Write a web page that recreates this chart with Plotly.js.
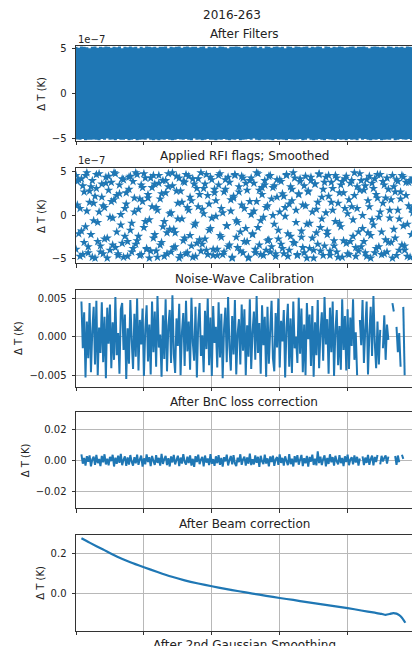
<!DOCTYPE html>
<html><head><meta charset="utf-8">
<script src="https://cdn.plot.ly/plotly-3.0.1.min.js"></script>
<style>html,body{margin:0;padding:0;background:#fff;overflow:hidden;width:412px;height:646px}#chart{width:414px;height:700px}</style>
</head><body><div id="chart"></div>
<script>
const suptitle = "2016-263";
const panelTitles = ["After Filters","Applied RFI flags; Smoothed","Noise-Wave Calibration","After BnC loss correction","After Beam correction","After 2nd Gaussian Smoothing"];
const yLabel = "Δ T (K)";
const offsetLabel = "1e−7";

// frequency channels (MHz)
const freq = [50,50.2,50.4,50.6,50.8,51,51.2,51.4,51.6,51.8,52,52.2,52.4,52.6,52.8,53,53.2,53.4,53.6,53.8,54,54.2,54.4,54.6,54.8,55,55.2,55.4,55.6,55.8,56,56.2,56.4,56.6,56.8,57,57.2,57.4,57.6,57.8,58,58.2,58.4,58.6,58.8,59,59.2,59.4,59.6,59.8,60,60.2,60.4,60.6,60.8,61,61.2,61.4,61.6,61.8,62,62.2,62.4,62.6,62.8,63,63.2,63.4,63.6,63.8,64,64.2,64.4,64.6,64.8,65,65.2,65.4,65.6,65.8,66,66.2,66.4,66.6,66.8,67,67.2,67.4,67.6,67.8,68,68.2,68.4,68.6,68.8,69,69.2,69.4,69.6,69.8,70,70.2,70.4,70.6,70.8,71,71.2,71.4,71.6,71.8,72,72.2,72.4,72.6,72.8,73,73.2,73.4,73.6,73.8,74,74.2,74.4,74.6,74.8,75,75.2,75.4,75.6,75.8,76,76.2,76.4,76.6,76.8,77,77.2,77.4,77.6,77.8,78,78.2,78.4,78.6,78.8,79,79.2,79.4,79.6,79.8,80,80.2,80.4,80.6,80.8,81,81.2,81.4,81.6,81.8,82,82.2,82.4,82.6,82.8,83,83.2,83.4,83.6,83.8,84,84.2,84.4,84.6,84.8,85,85.2,85.4,85.6,85.8,86,86.2,86.4,86.6,86.8,87,87.2,87.4,87.6,87.8,88,88.2,88.4,88.6,88.8,89,89.2,89.4,89.6,89.8,90,90.2,90.4,90.6,90.8,91,91.2,91.4,91.6,91.8,92,92.2,92.4,92.6,92.8,93,93.2,93.4,93.6,93.8,94,94.2,94.4,94.6,94.8,95,95.2,95.4,95.6,95.8,96,96.2,96.4,96.6,96.8,97,97.2,97.4,97.6,97.8,98,98.2,98.4,98.6,98.8,99,99.2,99.4,99.6];

// Panel 1: After Filters (K)
const afterFilters = [
5.2e-7,-5.15e-7,5.1e-7,-5.2e-7,5.25e-7,-5.1e-7,5.2e-7,-5.25e-7,5.15e-7,-5.2e-7,5.05e-7,-5.2e-7,5.2e-7,-5.15e-7,5.25e-7,-5.2e-7,5.1e-7,-5.25e-7,5.2e-7,-5.1e-7,
5.15e-7,-5.2e-7,5.25e-7,-5.05e-7,5.2e-7,-5.2e-7,5.1e-7,-5.15e-7,5.2e-7,-5.25e-7,5.15e-7,-5.1e-7,5.25e-7,-5.2e-7,5.05e-7,-5.2e-7,5.2e-7,-5.1e-7,5.15e-7,-5.25e-7,
5.25e-7,-5.2e-7,5.15e-7,-5.1e-7,5.2e-7,-5.25e-7,5.05e-7,-5.2e-7,5.2e-7,-5.15e-7,5.1e-7,-5.2e-7,5.25e-7,-5.05e-7,5.2e-7,-5.2e-7,5.15e-7,-5.25e-7,5.2e-7,-5.15e-7,
5.1e-7,-5.25e-7,5.2e-7,-5.15e-7,5.2e-7,-5.2e-7,5.25e-7,-5.1e-7,5.05e-7,-5.2e-7,5.2e-7,-5.25e-7,5.15e-7,-5.2e-7,5.2e-7,-5.1e-7,5.25e-7,-5.15e-7,5.1e-7,-5.2e-7,
5.2e-7,-5.1e-7,5.25e-7,-5.2e-7,5.15e-7,-5.25e-7,5.2e-7,-5.05e-7,5.2e-7,-5.2e-7,5.1e-7,-5.15e-7,5.2e-7,-5.25e-7,5.25e-7,-5.2e-7,5.05e-7,-5.1e-7,5.2e-7,-5.2e-7,
5.15e-7,-5.2e-7,5.2e-7,-5.25e-7,5.1e-7,-5.15e-7,5.25e-7,-5.2e-7,5.2e-7,-5.1e-7,5.15e-7,-5.2e-7,5.05e-7,-5.25e-7,5.2e-7,-5.15e-7,5.2e-7,-5.2e-7,5.25e-7,-5.1e-7,
5.2e-7,-5.25e-7,5.1e-7,-5.2e-7,5.2e-7,-5.15e-7,5.25e-7,-5.1e-7,5.15e-7,-5.2e-7,5.2e-7,-5.05e-7,5.25e-7,-5.2e-7,5.1e-7,-5.25e-7,5.2e-7,-5.15e-7,5.05e-7,-5.2e-7,
5.25e-7,-5.15e-7,5.2e-7,-5.2e-7,5.1e-7,-5.25e-7,5.2e-7,-5.1e-7,5.25e-7,-5.2e-7,5.15e-7,-5.15e-7,5.2e-7,-5.2e-7,5.05e-7,-5.25e-7,5.25e-7,-5.1e-7,5.2e-7,-5.15e-7,
5.1e-7,-5.2e-7,5.25e-7,-5.15e-7,5.2e-7,-5.1e-7,5.15e-7,-5.25e-7,5.2e-7,-5.2e-7,5.25e-7,-5.05e-7,5.1e-7,-5.2e-7,5.2e-7,-5.25e-7,5.15e-7,-5.2e-7,5.25e-7,-5.1e-7,
5.2e-7,-5.2e-7,5.05e-7,-5.25e-7,5.25e-7,-5.1e-7,5.2e-7,-5.15e-7,5.1e-7,-5.2e-7,5.2e-7,-5.25e-7,5.15e-7,-5.1e-7,5.25e-7,-5.2e-7,5.2e-7,-5.15e-7,5.1e-7,-5.25e-7,
5.15e-7,-5.1e-7,5.2e-7,-5.2e-7,5.25e-7,-5.15e-7,5.1e-7,-5.25e-7,5.2e-7,-5.05e-7,5.2e-7,-5.2e-7,5.25e-7,-5.1e-7,5.15e-7,-5.2e-7,5.05e-7,-5.25e-7,5.2e-7,-5.15e-7,
5.25e-7,-5.2e-7,5.2e-7,-5.1e-7,5.15e-7,-5.25e-7,5.2e-7,-5.2e-7,5.1e-7,-5.15e-7,5.25e-7,-5.2e-7,5.2e-7,-5.05e-7,5.1e-7,-5.25e-7,5.2e-7,-5.2e-7,5.15e-7,-5.1e-7,
5.2e-7,-5.15e-7,5.1e-7,-5.2e-7,5.25e-7,-5.1e-7,5.2e-7,-5.25e-7,5.15e-7];

// Panel 2: Applied RFI flags; Smoothed (two samples per channel, K)
const rfiStarsA = [
4.6e-7,3.9e-7,-2.1e-7,0.8e-7,4.2e-7,-4.5e-7,2.7e-7,-1.3e-7,4.9e-7,-3.6e-7,1.5e-7,3.3e-7,-4.8e-7,-0.6e-7,2.2e-7,4.7e-7,-3.0e-7,0.4e-7,-4.2e-7,3.6e-7,
1.1e-7,-2.7e-7,4.4e-7,-4.9e-7,2.9e-7,-0.2e-7,3.8e-7,-3.4e-7,1.8e-7,4.8e-7,-1.9e-7,-4.4e-7,2.5e-7,0.1e-7,-3.2e-7,4.1e-7,-2.4e-7,1.3e-7,-4.7e-7,3.0e-7,
4.5e-7,-0.9e-7,-3.8e-7,2.0e-7,4.9e-7,-2.9e-7,0.7e-7,-4.6e-7,3.5e-7,1.6e-7,-1.4e-7,4.3e-7,-3.9e-7,2.4e-7,-0.5e-7,-4.1e-7,3.2e-7,4.6e-7,-2.2e-7,0.9e-7,
-4.8e-7,3.7e-7,1.9e-7,-3.1e-7,4.0e-7,-0.7e-7,2.6e-7,-4.4e-7,4.8e-7,-1.6e-7,0.3e-7,3.4e-7,-3.7e-7,-2.0e-7,4.5e-7,1.4e-7,-4.9e-7,2.8e-7,-0.4e-7,3.9e-7,
-2.6e-7,4.7e-7,-4.3e-7,0.6e-7,2.1e-7,-3.5e-7,4.2e-7,-1.1e-7,-4.7e-7,3.1e-7,1.0e-7,-2.8e-7,4.9e-7,-3.3e-7,0.2e-7,3.6e-7,-4.0e-7,2.3e-7,-1.7e-7,4.4e-7,
-0.3e-7,-4.6e-7,3.0e-7,1.7e-7,-3.9e-7,4.6e-7,-2.3e-7,0.8e-7,-4.5e-7,2.7e-7,4.1e-7,-1.2e-7,-3.6e-7,3.8e-7,0.5e-7,-4.8e-7,2.0e-7,4.7e-7,-2.5e-7,-0.8e-7,
3.3e-7,-4.1e-7,1.2e-7,4.3e-7,-3.0e-7,-1.5e-7,2.9e-7,-4.9e-7,4.0e-7,0.1e-7,-2.1e-7,3.7e-7,-4.3e-7,1.6e-7,4.8e-7,-3.4e-7,-0.6e-7,2.4e-7,-4.6e-7,3.5e-7,
0.9e-7,-2.9e-7,4.5e-7,-4.2e-7,1.9e-7,3.2e-7,-1.0e-7,-4.4e-7,4.1e-7,-2.7e-7,0.4e-7,3.9e-7,-3.8e-7,2.2e-7,-0.1e-7,4.6e-7,-4.7e-7,1.3e-7,-2.4e-7,3.0e-7,
4.9e-7,-3.2e-7,0.6e-7,-4.5e-7,2.5e-7,4.2e-7,-1.8e-7,-3.7e-7,3.4e-7,1.1e-7,-4.9e-7,2.8e-7,-0.9e-7,4.4e-7,-2.6e-7,-4.0e-7,3.6e-7,0.7e-7,-3.3e-7,4.7e-7,
-1.4e-7,2.1e-7,-4.6e-7,3.8e-7,0.3e-7,-2.2e-7,4.6e-7,-4.1e-7,1.5e-7,3.1e-7,-3.5e-7,-0.7e-7,4.3e-7,-4.8e-7,2.6e-7,-1.3e-7,3.9e-7,-2.9e-7,0.8e-7,4.5e-7,
-4.4e-7,1.8e-7,-3.0e-7,4.0e-7,-0.5e-7,2.3e-7,-4.7e-7,3.3e-7,-1.9e-7,4.8e-7,-3.6e-7,0,2.9e-7,-4.3e-7,4.1e-7,-2.0e-7,1.0e-7,-4.9e-7,3.7e-7,-1.1e-7,
4.2e-7,-3.8e-7,2.0e-7,-0.2e-7,4.7e-7,-4.5e-7,1.4e-7,3.5e-7,-2.8e-7,-4.2e-7,3.0e-7,0.6e-7,-3.1e-7,4.6e-7,-1.6e-7,2.7e-7,-4.6e-7,3.9e-7,-0.4e-7,1.9e-7,
-3.4e-7,4.4e-7,-4.0e-7,2.3e-7,-1.0e-7,3.8e-7,-4.8e-7,0.7e-7,4.3e-7];
const rfiStarsB = [
-3.9e-7,1.2e-7,4.1e-7,-4.7e-7,-1.8e-7,3.4e-7,-3.1e-7,4.6e-7,0.5e-7,-4.3e-7,2.8e-7,-2.2e-7,4.0e-7,1.4e-7,-4.9e-7,3.1e-7,-0.8e-7,4.8e-7,-3.5e-7,2.1e-7,
-4.4e-7,0.9e-7,3.7e-7,-2.6e-7,4.5e-7,-4.0e-7,1.6e-7,-0.3e-7,4.9e-7,-3.7e-7,2.3e-7,-4.6e-7,3.5e-7,-1.1e-7,4.2e-7,-4.8e-7,0.8e-7,2.6e-7,-3.0e-7,4.4e-7,
-1.7e-7,-4.2e-7,3.9e-7,0.4e-7,-3.3e-7,4.7e-7,-2.4e-7,1.9e-7,-4.5e-7,3.2e-7,4.8e-7,-0.7e-7,-3.8e-7,2.0e-7,-4.9e-7,4.3e-7,1.0e-7,-2.6e-7,3.6e-7,-4.1e-7,
0.6e-7,4.6e-7,-3.4e-7,2.5e-7,-1.3e-7,-4.7e-7,4.0e-7,-2.0e-7,3.3e-7,0.2e-7,-4.2e-7,4.9e-7,-1.6e-7,-3.6e-7,2.8e-7,-0.4e-7,4.3e-7,-4.6e-7,1.5e-7,-2.9e-7,
3.8e-7,-4.4e-7,0.9e-7,4.5e-7,-2.3e-7,1.7e-7,-4.8e-7,3.6e-7,-0.9e-7,-3.2e-7,4.2e-7,2.4e-7,-4.1e-7,0.7e-7,3.1e-7,-2.7e-7,4.7e-7,-4.5e-7,1.3e-7,-1.5e-7,
4.1e-7,-3.9e-7,2.6e-7,-0.1e-7,-4.6e-7,3.5e-7,4.8e-7,-2.5e-7,0.3e-7,-4.2e-7,3.0e-7,-1.2e-7,4.4e-7,-3.4e-7,1.8e-7,-4.9e-7,2.2e-7,4.6e-7,-0.6e-7,-3.7e-7,
2.7e-7,-1.9e-7,4.5e-7,-4.3e-7,0.8e-7,3.7e-7,-3.0e-7,-4.8e-7,1.6e-7,4.3e-7,-2.2e-7,0.5e-7,-3.9e-7,4.9e-7,-1.4e-7,2.9e-7,-4.5e-7,3.2e-7,-0.2e-7,4.0e-7,
-4.0e-7,1.1e-7,-2.8e-7,4.6e-7,-3.6e-7,0,3.4e-7,-4.7e-7,2.1e-7,-1.7e-7,4.1e-7,-3.3e-7,2.5e-7,-4.4e-7,0.9e-7,4.7e-7,-2.1e-7,-4.0e-7,3.3e-7,1.7e-7,
-3.1e-7,4.3e-7,-0.8e-7,-4.6e-7,2.4e-7,3.9e-7,-2.5e-7,1.2e-7,-4.3e-7,4.5e-7,-1.0e-7,2.7e-7,-3.8e-7,4.0e-7,0.4e-7,-4.9e-7,3.6e-7,-2.0e-7,1.5e-7,4.8e-7,
-4.1e-7,-0.4e-7,3.0e-7,-3.5e-7,4.4e-7,-1.8e-7,2.2e-7,-4.6e-7,3.8e-7,0.6e-7,-2.9e-7,4.6e-7,-4.2e-7,1.4e-7,-0.9e-7,3.5e-7,-4.8e-7,2.6e-7,4.2e-7,-3.2e-7,
0.2e-7,-4.5e-7,3.7e-7,1.0e-7,-2.4e-7,4.9e-7,-3.7e-7,0.8e-7,-4.1e-7,2.9e-7,4.0e-7,-1.5e-7,-3.0e-7,3.4e-7,-4.7e-7,1.7e-7,4.5e-7,-2.3e-7,-0.5e-7,3.1e-7,
-4.3e-7,2.4e-7,4.7e-7,-3.6e-7,0.4e-7,-1.9e-7,3.9e-7,-4.4e-7,2.0e-7,4.3e-7,-3.1e-7,-0.3e-7,1.8e-7,-4.9e-7,3.3e-7,-2.6e-7,4.1e-7,0.6e-7,-4.0e-7,2.7e-7,
4.6e-7,-1.2e-7,-3.5e-7,3.8e-7,-4.7e-7,1.1e-7,4.0e-7,-2.2e-7,0.3e-7];

// Panel 3: Noise-Wave Calibration (K)
const noiseWave = [null,null,null,null,
.0046,-.0015,.0032,-.0053,.002,-.0028,.0044,-.0046,.0008,.0039,-.0036,.0047,-.005,.0012,-.0021,.0045,-.0033,.0026,-.0054,.0038,
-.0009,.0042,-.0041,.0019,-.003,.0052,-.0024,.0005,-.0048,.0036,.0044,-.0017,.0029,-.0055,.0011,-.0035,.0048,-.0004,-.0042,.003,
-.0026,.005,-.0044,.0022,-.001,.0037,-.0051,.0009,.0041,-.0032,.0016,-.0049,.0046,-.002,.0033,-.0039,.0053,-.0014,.0003,-.0052,
.0028,-.0029,.0049,-.0045,.0014,.0035,-.0034,.0054,-.0022,-.0047,.0024,-.0012,.0043,-.005,.0006,.0031,-.0038,.0047,-.0019,.002,
-.0043,.0051,-.0007,-.0031,.0039,-.0053,.0017,.0044,-.0025,.0002,-.0046,.0034,-.0016,.005,-.0037,.0025,-.0051,.004,-.0008,.0013,
-.004,.0045,-.0027,.003,-.0054,.001,.0038,-.0033,.0052,-.0013,-.0044,.0027,-.0023,.0048,-.0049,.0004,.0023,-.0036,.0042,-.0018,
.0036,-.005,.0015,-.0026,.0049,-.0042,.0007,.0033,-.003,.0053,-.0021,.0018,-.0048,.0041,-.0011,.0026,-.0052,.0039,-.0035,.0009,
.0047,-.0028,-.0045,.0031,-.0014,.005,-.004,.0021,-.0006,.0035,-.0053,.0012,.0043,-.0039,.0024,-.0047,.0046,-.0015,0,-.0034,
.0051,-.0022,.0037,-.0046,.0016,-.005,.0044,-.0003,.0029,-.0038,.004,-.0052,.0019,-.0024,.0048,-.0041,.0005,.0032,-.0031,.0052,
-.001,.0023,-.0048,.0038,-.002,.0046,-.0051,.0008,.0035,-.0037,.0014,-.0043,.0049,-.0017,.0027,-.0044,
.0036,-.0042,.0025,-.0012,.0049,-.003,.0006,-.005,null,.0022,-.0011,.0048,-.0034,.001,.0046,-.0049,.0003,.0039,-.0025,.0053,
-.0008,-.0041,.002,-.0036,.0009,null,-.0015,.0028,-.003,.0016,-.0004,null,null,.0044,.0033,null,.0013,-.002,.0005,-.0039,
null,.0039,-.005,null,null,null,null,null,null];

// Panel 4: After BnC loss correction (K)
const bncLoss = [null,null,null,null,
.0038,-.0021,.0015,-.0034,.0027,-.0009,.0032,-.0038,.0006,.0024,-.0029,.0035,-.0018,.0009,-.0036,.0029,-.0012,.0039,-.0026,.0011,
-.0032,.0022,-.0005,.0036,-.0039,.0017,-.0022,.003,-.0015,.0041,-.0031,.0004,.0026,-.0035,.0019,-.0027,.0034,-.0008,-.0033,.0021,
-.0019,.0037,-.0028,.0007,.0031,-.004,.0013,-.0025,.0038,-.0011,.002,-.0037,.0028,-.0003,-.0029,.0033,-.0016,.0016,-.0034,.0042,
-.0023,.0009,.0029,-.003,.0014,-.0039,.0025,-.0013,.0035,-.0026,.0002,.003,-.0036,.0018,-.002,.0039,-.0009,-.0027,.0023,-.0017,
.0032,-.0033,.001,-.0042,.0027,-.001,.0036,-.0024,.0005,.0022,-.0038,.0031,-.0014,.0012,-.003,.004,-.0022,.0008,-.0035,.0026,
-.0018,.0033,-.0029,.0015,-.004,.002,-.0006,.0037,-.0032,.0003,.0028,-.0025,.0034,-.0019,-.0037,.0017,-.0011,.0039,-.0028,.0006,
.0024,-.0034,.0019,-.0021,.0043,-.003,.0008,-.0026,.0031,-.0015,.0023,-.0041,.0029,-.0007,-.0023,.0036,-.002,.0013,-.0038,.0025,
-.001,.003,-.0035,.0007,.0021,-.0028,.0038,-.0016,.0016,-.0033,.0026,-.0004,-.0031,.004,-.0024,.0011,-.0039,.0027,-.0013,.0033,
-.0027,.0004,.0035,-.0036,.0014,-.0019,.0028,-.004,.0022,-.0008,.0037,-.0029,.001,-.0032,.0058,-.0017,.0024,-.003,.0009,.0032,
-.0038,.0016,-.0023,.0039,-.0012,.0021,-.0034,.0029,-.0006,-.0026,.0034,-.0018,.0015,-.0037,.0026,-.0011,.0036,-.0031,.0005,.002,
-.0025,.0031,-.0014,.0023,-.0033,.0012,
null,.0026,-.003,.0018,-.0016,.0035,-.0028,.0009,.003,-.0032,.0022,-.001,.0034,null,-.0025,.0029,-.0007,.0016,.0032,-.0021,
.0024,null,null,null,null,.0028,-.0029,.0031,-.0012,null,.0036,.001,null,null,null,null,null,null,null];

// Panel 5: After Beam correction (K)
const beamFreq = [50.8,52,54,56,58,60,62,64,66,68,70,72,74,76,78,80,82,84,86,88,90,92,94,95,95.6,96.2,96.7,97.2,97.6,98,98.5];
const beamCorr = [0.276,0.254,0.219,0.184,0.155,0.130,0.106,0.083,0.064,0.048,0.034,0.021,0.009,-0.003,-0.014,-0.025,-0.035,-0.046,-0.056,-0.066,-0.076,-0.088,-0.099,-0.105,-0.110,-0.106,-0.101,-0.104,-0.112,-0.125,-0.150];

const yRanges = [[-5.3e-7,5.3e-7],[-5.5e-7,5.45e-7],[-0.0065,0.0061],[-0.0306,0.0307],[-0.19,0.294]];
const yTickVals = [[-5e-7,0,5e-7],[-5e-7,0,5e-7],[-0.005,0,0.005],[-0.02,0,0.02],[0,0.2]];
const yTickText = [["−5","0","5"],["−5","0","5"],["−0.005","0.000","0.005"],["−0.02","0.00","0.02"],["0.0","0.2"]];
const xTickVals = [50,60,70,80,90,100];
const xRange = [50,99.57];

const BLUE = '#1f77b4';
const W = 414, H = 700;
const boxes = [[46,140.7],[168,263.3],[290,386.7],[412.3,508.3],[534.7,630.7]];
const showGrid = [false,false,true,true,true];
const titleY = [34.3,156,279,401.7,524,645];
const labelX = [41.3,41.3,18.7,25,41];

const layout = {
  width: W, height: H, margin:{l:0,r:0,t:0,b:0},
  paper_bgcolor:'#fff', plot_bgcolor:'#fff', showlegend:false,
  font:{family:'DejaVu Sans, sans-serif', size:10, color:'#222'},
  annotations:[]
};
const ann = (text, x, y, size, extra) => Object.assign({text, x:x/W, y:1-y/H, xref:'paper', yref:'paper', showarrow:false, xanchor:'center', yanchor:'middle', font:{size, color:'#222', family:'DejaVu Sans, sans-serif'}}, extra||{});

layout.annotations.push(ann(suptitle, 231.7, 15, 12));
panelTitles.forEach((t,k)=> layout.annotations.push(ann(t, 244.3, titleY[k], 12)));
layout.annotations.push(ann(offsetLabel, 76, 39.3, 10, {xanchor:'left'}));
layout.annotations.push(ann(offsetLabel, 76, 160.7, 10, {xanchor:'left'}));

for (let k=0;k<5;k++){
  const s = k===0 ? '' : String(k+1);
  const [T,B] = boxes[k];
  layout['xaxis'+s] = {domain:[76/W, 412.6/W], range:xRange, anchor:'y'+s,
    tickmode:'array', tickvals:xTickVals, showticklabels:false, ticks:'outside', ticklen:3.5, tickwidth:1, tickcolor:'#333',
    showline:true, mirror:true, linecolor:'#333', linewidth:1,
    showgrid:showGrid[k], gridcolor:'#b8b8b8', gridwidth:1, zeroline:false, fixedrange:true};
  layout['yaxis'+s] = {domain:[1-B/H, 1-T/H], range:yRanges[k], anchor:'x'+s,
    tickmode:'array', tickvals:yTickVals[k], ticktext:yTickText[k], ticks:'outside', ticklen:3.5, tickwidth:1, tickcolor:'#333',
    ticklabelstandoff:3, tickfont:{size:10, color:'#222'},
    showline:true, mirror:true, linecolor:'#333', linewidth:1,
    showgrid:showGrid[k], gridcolor:'#b8b8b8', gridwidth:1, zeroline:false, fixedrange:true};
  layout.annotations.push(ann(yLabel, labelX[k], (T+B)/2, 10, {textangle:-90}));
}

const traces = [
  {x:freq, y:afterFilters, xaxis:'x', yaxis:'y', type:'scatter', mode:'lines', line:{color:BLUE, width:3, simplify:false}, hoverinfo:'skip'},
  {x:freq, y:rfiStarsA, xaxis:'x2', yaxis:'y2', type:'scatter', mode:'markers', marker:{symbol:'star', size:7, color:BLUE, line:{width:0}}, hoverinfo:'skip'},
  {x:freq, y:rfiStarsB, xaxis:'x2', yaxis:'y2', type:'scatter', mode:'markers', marker:{symbol:'star', size:7, color:BLUE, line:{width:0}}, hoverinfo:'skip'},
  {x:freq, y:noiseWave, xaxis:'x3', yaxis:'y3', type:'scatter', mode:'lines', connectgaps:false, line:{color:BLUE, width:2, simplify:false}, hoverinfo:'skip'},
  {x:freq, y:bncLoss, xaxis:'x4', yaxis:'y4', type:'scatter', mode:'lines', connectgaps:false, line:{color:BLUE, width:2, simplify:false}, hoverinfo:'skip'},
  {x:beamFreq, y:beamCorr, xaxis:'x5', yaxis:'y5', type:'scatter', mode:'lines', line:{color:BLUE, width:2.2, shape:'spline', smoothing:0.6}, hoverinfo:'skip'}
];

Plotly.newPlot('chart', traces, layout, {staticPlot:true, displayModeBar:false});
</script>
</body></html>
